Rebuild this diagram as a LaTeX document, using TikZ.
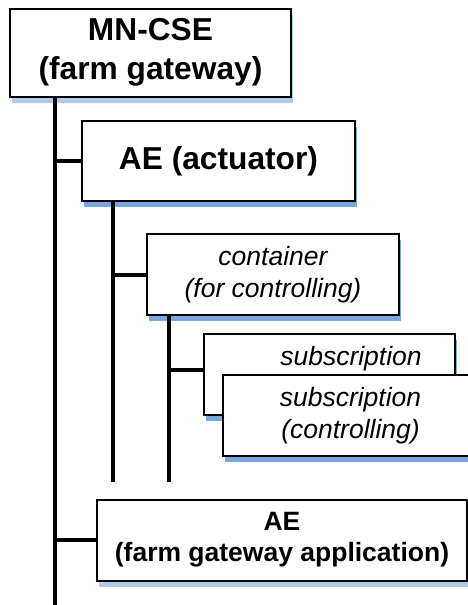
\documentclass[tikz,border=0pt]{standalone}
\usepackage{fontspec}
\setmainfont{Liberation Sans}
\usetikzlibrary{shadows}
\definecolor{shadowblue}{HTML}{78A7DE}
\definecolor{shadowpale}{HTML}{B0CBEA}
\tikzset{
  box/.style={draw=black, line width=2pt, fill=white, rectangle, inner sep=0pt,
    align=center, text=black,
    general shadow={fill=shadowblue, shadow xshift=2pt, shadow yshift=-6pt}},
  palebox/.style={draw=black, line width=2pt, fill=white, rectangle, inner sep=0pt,
    align=center, text=black,
    general shadow={fill=shadowpale, shadow xshift=2pt, shadow yshift=-6pt}},
  bigbold/.style={font=\fontsize{31.7}{39.5}\selectfont\bfseries},
  smallbold/.style={font=\fontsize{26.5}{31}\selectfont\bfseries},
  smallit/.style={font=\fontsize{26.5}{31.5}\selectfont\itshape},
  conn/.style={line width=4pt, black}
}
\begin{document}
\begin{tikzpicture}[x=1pt, y=-1pt]
\useasboundingbox (0,0) rectangle (468,605);

% resource boxes
\node[palebox, bigbold, minimum width=281pt, minimum height=88pt] (cse) at (150.5,52.5) {MN-CSE\\(farm gateway)};
\node[box, bigbold, minimum width=273pt, minimum height=80pt] (act) at (218.5,161) {AE (actuator)};
\node[box, smallit, minimum width=252pt, minimum height=81pt] (cnt) at (273,274.5) {container\\(for controlling)};
\node[box, minimum width=251pt, minimum height=81pt] (sub1) at (329.5,374.5) {};
\node[smallit, anchor=base] (sub1t) at (351,365) {subscription};
\node[box, smallit, minimum width=255pt, minimum height=81pt] (sub2) at (350.5,415.5) {subscription\\(controlling)};
\node[palebox, smallbold, minimum width=370pt, minimum height=81pt] (app) at (282,540) {AE\\(farm gateway application)};

% tree connectors
\coordinate (end1) at (55,605);
\coordinate (end2) at (113,482);
\coordinate (end3) at (169,482);
\draw[conn] (cse.south -| end1) -- (end1);
\draw[conn] (act.west -| end1) -- (act.west);
\draw[conn] (app.west -| end1) -- (app.west);
\draw[conn] (act.south -| end2) -- (end2);
\draw[conn] (cnt.west -| end2) -- (cnt.west);
\draw[conn] (cnt.south -| end3) -- (end3);
\draw[conn] ([yshift=4.5pt]sub1.west -| end3) -- ([yshift=4.5pt]sub1.west);
\end{tikzpicture}
\end{document}
